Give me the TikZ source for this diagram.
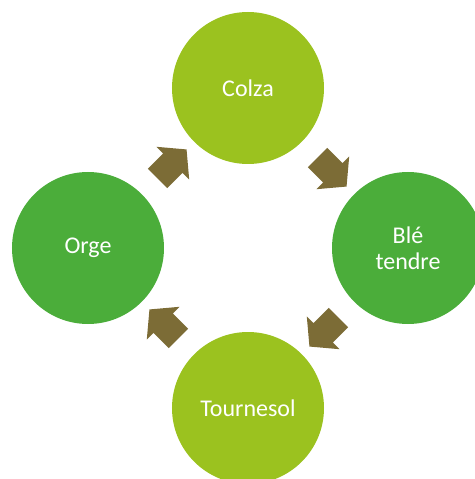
\documentclass[tikz,border=0pt]{standalone}
\usepackage{fontspec}
\setmainfont{Carlito}
\usetikzlibrary{shapes.arrows,calc}
\definecolor{crlime}{HTML}{9BC21F}
\definecolor{crgreen}{HTML}{4BAD3A}
\definecolor{crolive}{HTML}{7C6C36}

\begin{document}
\begin{tikzpicture}[x=1pt, y=1pt,
  crop/.style={circle, minimum size=152pt, inner sep=0pt, align=center,
               text=white, font=\fontsize{24}{26}\selectfont},
  turn/.style={single arrow, fill=crolive, minimum height=41pt, inner xsep=0pt, inner ysep=13.5pt,
               single arrow head extend=9.5pt, single arrow tip angle=100},
]
\useasboundingbox (-248,-231) rectangle (226,248);

% Cultures de la rotation (haut, droite, bas, gauche)
\node[crop, fill=crlime]  (colza) at (0,160)  {Colza};
\node[crop, fill=crgreen] (ble)   at (160,0)  {Blé\\tendre};
\node[crop, fill=crlime]  (tourn) at (0,-160) {Tournesol};
\node[crop, fill=crgreen] (orge)  at (-160,0) {Orge};

% Flèches du cycle, au milieu entre deux cultures
\node[turn, rotate=45]   (o2c) at ($(orge)!0.5!(colza)$)  {};
\node[turn, rotate=-45]  (c2b) at ($(colza)!0.5!(ble)$)   {};
\node[turn, rotate=-135] (b2t) at ($(ble)!0.5!(tourn)$)   {};
\node[turn, rotate=135]  (t2o) at ($(tourn)!0.5!(orge)$)  {};

\end{tikzpicture}
\end{document}
